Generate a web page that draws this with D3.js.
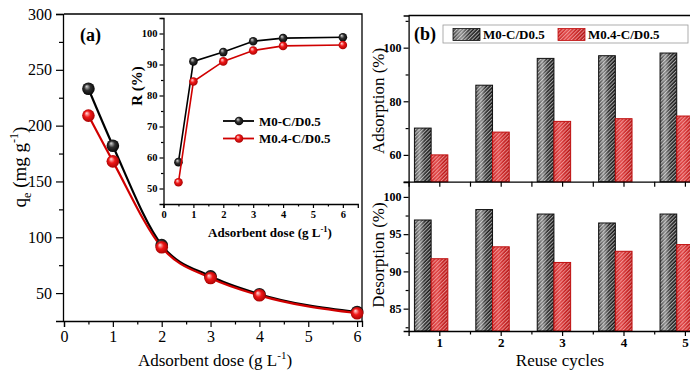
<!DOCTYPE html>
<html>
<head>
<meta charset="utf-8">
<script src="https://cdn.jsdelivr.net/npm/d3@7"></script>
<style>
  html, body { margin: 0; padding: 0; background: #fff; }
  svg, svg text { font-family: 'Liberation Serif', 'Times New Roman', serif; }
  svg { display: block; }
</style>
</head>
<body>
<svg id="chart" width="690" height="372"></svg>
<script>
// ---- data ----
const doses = [0.5, 1, 2, 3, 4, 6];
const qeM0 = [233, 182, 93, 65, 49, 33];
const qeM04 = [209, 168, 91, 63.5, 48, 32];
const rM0 = [58.5, 91, 94, 97.5, 98.5, 98.8];
const rM04 = [52, 84.5, 91, 94.5, 96, 96.3];

const cycles = [1, 2, 3, 4, 5];
const adsM0 = [70, 86, 96, 97, 98];
const adsM04 = [60, 68.5, 72.5, 73.5, 74.5];
const desM0 = [96.9, 98.3, 97.7, 96.5, 97.7];
const desM04 = [91.7, 93.3, 91.2, 92.7, 93.6];

const seriesNames = ["M0-C/D0.5", "M0.4-C/D0.5"];
const qeTicks = [50, 100, 150, 200, 250, 300];
const doseTicks = [0, 1, 2, 3, 4, 5, 6];
const rTicks = [50, 60, 70, 80, 90, 100];
const adsTicks = [60, 80, 100];
const desTicks = [85, 90, 95, 100];

const svg = d3.select("#chart");
const defs = svg.append("defs");
const serif = "'Liberation Serif', 'Times New Roman', serif";

// ---- gradients & patterns ----
function ball(id, hi, mid, edge) {
  const g = defs.append("radialGradient").attr("id", id)
    .attr("cx", "50%").attr("cy", "50%").attr("r", "55%")
    .attr("fx", "35%").attr("fy", "30%");
  g.append("stop").attr("offset", "0%").attr("stop-color", hi);
  g.append("stop").attr("offset", "45%").attr("stop-color", mid);
  g.append("stop").attr("offset", "100%").attr("stop-color", edge);
}
ball("ballBlack", "#d8d8d8", "#303030", "#000");
ball("ballRed", "#ffe0e0", "#f01818", "#a00000");

function barGrad(id, stops) {
  const g = defs.append("linearGradient").attr("id", id)
    .attr("x1", "0%").attr("x2", "100%").attr("y1", "0%").attr("y2", "0%");
  stops.forEach(([o, c]) => g.append("stop").attr("offset", o).attr("stop-color", c));
}
barGrad("gBlack", [["0%", "#3a3a3a"], ["30%", "#8a8a8a"], ["60%", "#2a2a2a"], ["100%", "#111"]]);
barGrad("gRed", [["0%", "#c81e1e"], ["35%", "#e04444"], ["70%", "#c41c1c"], ["100%", "#b01515"]]);

function hatch(id, color, op) {
  const p = defs.append("pattern").attr("id", id)
    .attr("patternUnits", "userSpaceOnUse")
    .attr("width", 2.6).attr("height", 2.6)
    .attr("patternTransform", "rotate(45)");
  p.append("rect").attr("x", 0).attr("y", 0).attr("width", 1.1).attr("height", 2.6)
    .attr("fill", color).attr("opacity", op);
}
hatch("hBlack", "#ffffff", 0.6);
hatch("hRed", "#ffd0d0", 0.6);

function styleAxis(g, fontSize, bold) {
  g.attr("font-family", null).style("font-family", serif);
  g.selectAll("path.domain").attr("stroke", "#000").attr("stroke-width", 1.3);
  g.selectAll(".tick line").attr("stroke", "#000").attr("stroke-width", 1.2);
  g.selectAll(".tick text").style("font-family", serif)
    .attr("font-size", fontSize).attr("font-weight", bold ? "bold" : "normal").attr("fill", "#000");
}

// =============== Panel (a) ===============
const xA = d3.scaleLinear().domain([0, 6.1]).range([64, 362]);
const yA = d3.scaleLinear().domain([25, 300]).range([321, 14]);

// frame (top and right)
svg.append("path").attr("d", `M${xA(0)},${yA(300)}H${xA(6.1)}V${yA(25)}`)
  .attr("fill", "none").attr("stroke", "#000").attr("stroke-width", 1.3);

const axA_x = svg.append("g").attr("transform", `translate(0,${yA(25)})`)
  .call(d3.axisBottom(xA).tickValues(doseTicks).tickFormat(d3.format("d")).tickSize(6).tickPadding(4));
styleAxis(axA_x, 16, false);
const axA_xm = svg.append("g").attr("transform", `translate(0,${yA(25)})`)
  .call(d3.axisBottom(xA).tickValues(d3.range(0.5, 6, 1)).tickFormat("").tickSize(3.5));
styleAxis(axA_xm, 16, false);
axA_xm.select("path.domain").remove();

const axA_y = svg.append("g").attr("transform", `translate(${xA(0) - 1},0)`)
  .call(d3.axisLeft(yA).tickValues(qeTicks).tickSize(7).tickPadding(4));
styleAxis(axA_y, 16, false);
const axA_ym = svg.append("g").attr("transform", `translate(${xA(0) - 1},0)`)
  .call(d3.axisLeft(yA).tickValues([75, 125, 175, 225, 275]).tickFormat("").tickSize(4));
styleAxis(axA_ym, 16, false);
axA_ym.select("path.domain").remove();

// axis titles
const xtA = svg.append("text").attr("x", 215).attr("y", 366).attr("text-anchor", "middle")
  .attr("font-size", 17);
xtA.append("tspan").text("Adsorbent dose (g L");
xtA.append("tspan").attr("dy", -7).attr("font-size", 11).text("-1");
xtA.append("tspan").attr("dy", 7).text(")");

const ytA = svg.append("text").attr("transform", "translate(26,167) rotate(-90)")
  .attr("text-anchor", "middle").attr("font-size", 19);
ytA.append("tspan").text("q");
ytA.append("tspan").attr("dy", 5).attr("font-size", 12).text("e");
ytA.append("tspan").attr("dy", -5).text(" (mg g");
ytA.append("tspan").attr("dy", -8).attr("font-size", 12).text("-1");
ytA.append("tspan").attr("dy", 8).text(")");

svg.append("text").attr("x", 80).attr("y", 41).attr("font-size", 18).attr("font-weight", "bold").text("(a)");

// curves
const lineA = d3.line().x(d => xA(d[0])).y(d => yA(d[1])).curve(d3.curveMonotoneX);
const mainSeries = [
  { vals: qeM0, stroke: "#000", fill: "url(#ballBlack)" },
  { vals: qeM04, stroke: "#d00000", fill: "url(#ballRed)" }
];
mainSeries.forEach(s => {
  const pts = doses.map((d, i) => [d, s.vals[i]]);
  svg.append("path").attr("d", lineA(pts)).attr("fill", "none")
    .attr("stroke", s.stroke).attr("stroke-width", 2.2);
});
mainSeries.forEach(s => {
  svg.append("g").selectAll("circle").data(doses.map((d, i) => [d, s.vals[i]])).join("circle")
    .attr("cx", d => xA(d[0])).attr("cy", d => yA(d[1])).attr("r", 6.3)
    .attr("fill", s.fill);
});

// ---- inset ----
const xI = d3.scaleLinear().domain([0, 6.5]).range([163.5, 357.8]);
const yI = d3.scaleLinear().domain([45, 105]).range([204, 18]);

const axI_x = svg.append("g").attr("transform", `translate(0,${yI(45)})`)
  .call(d3.axisBottom(xI).tickValues(doseTicks).tickFormat(d3.format("d")).tickSize(4).tickPadding(3));
styleAxis(axI_x, 10.5, true);
const axI_xm = svg.append("g").attr("transform", `translate(0,${yI(45)})`)
  .call(d3.axisBottom(xI).tickValues(d3.range(0.5, 6.5, 1)).tickFormat("").tickSize(2.5));
styleAxis(axI_xm, 10, true);
axI_xm.select("path.domain").remove();

const axI_y = svg.append("g").attr("transform", `translate(${xI(0)},0)`)
  .call(d3.axisLeft(yI).tickValues(rTicks).tickSize(4).tickPadding(2));
styleAxis(axI_y, 10.5, true);
const axI_ym = svg.append("g").attr("transform", `translate(${xI(0)},0)`)
  .call(d3.axisLeft(yI).tickValues([55, 65, 75, 85, 95, 105]).tickFormat("").tickSize(2.5));
styleAxis(axI_ym, 10, true);
axI_ym.select("path.domain").remove();

const xtI = svg.append("text").attr("x", 270).attr("y", 237).attr("text-anchor", "middle")
  .attr("font-size", 13).attr("font-weight", "bold");
xtI.append("tspan").text("Adsorbent dose (g L");
xtI.append("tspan").attr("dy", -5).attr("font-size", 8.5).text("-1");
xtI.append("tspan").attr("dy", 5).text(")");

svg.append("text").attr("transform", "translate(142,86) rotate(-90)")
  .attr("text-anchor", "middle").attr("font-size", 15).attr("font-weight", "bold").text("R (%)");

const lineI = d3.line().x(d => xI(d[0])).y(d => yI(d[1]));
const insetSeries = [
  { vals: rM0, stroke: "#000", fill: "url(#ballBlack)" },
  { vals: rM04, stroke: "#d00000", fill: "url(#ballRed)" }
];
insetSeries.forEach(s => {
  const pts = doses.map((d, i) => [d, s.vals[i]]);
  svg.append("path").attr("d", lineI(pts)).attr("fill", "none")
    .attr("stroke", s.stroke).attr("stroke-width", 1.6);
  svg.append("g").selectAll("circle").data(pts).join("circle")
    .attr("cx", d => xI(d[0])).attr("cy", d => yI(d[1])).attr("r", 4.3)
    .attr("fill", s.fill);
});

// inset legend
insetSeries.forEach((s, i) => {
  const y = 121 + i * 17.5;
  svg.append("line").attr("x1", 223).attr("x2", 254).attr("y1", y).attr("y2", y)
    .attr("stroke", s.stroke).attr("stroke-width", 1.8);
  svg.append("circle").attr("cx", 239).attr("cy", y).attr("r", 4.3).attr("fill", s.fill);
  svg.append("text").attr("x", 259).attr("y", y + 4.5).attr("font-size", 13)
    .attr("font-weight", "bold").text(seriesNames[i]);
});

// =============== Panel (b) ===============
const xB = d3.scaleLinear().domain([0.5, 5.5]).range([408.6, 715.6]);
const yU = d3.scaleLinear().domain([50, 112]).range([181.7, 15.5]);
const yL = d3.scaleLinear().domain([82, 102]).range([331, 182]);
const barW = 0.272;
const blackOff = -0.405, redOff = -0.133;

function bars(yScale, vals, off, grad, pat, stroke) {
  const g = svg.append("g");
  const data = cycles.map((c, i) => [c, vals[i]]);
  const y0 = yScale.range()[0];
  g.selectAll("rect.base").data(data).join("rect").attr("class", "base")
    .attr("x", d => xB(d[0] + off)).attr("width", xB(barW) - xB(0))
    .attr("y", d => yScale(d[1])).attr("height", d => y0 - yScale(d[1]))
    .attr("fill", grad);
  g.selectAll("rect.hatch").data(data).join("rect").attr("class", "hatch")
    .attr("x", d => xB(d[0] + off)).attr("width", xB(barW) - xB(0))
    .attr("y", d => yScale(d[1])).attr("height", d => y0 - yScale(d[1]))
    .attr("fill", pat).attr("stroke", stroke).attr("stroke-width", 1);
}
bars(yU, adsM0, blackOff, "url(#gBlack)", "url(#hBlack)", "#111");
bars(yU, adsM04, redOff, "url(#gRed)", "url(#hRed)", "#c01010");
bars(yL, desM0, blackOff, "url(#gBlack)", "url(#hBlack)", "#111");
bars(yL, desM04, redOff, "url(#gRed)", "url(#hRed)", "#c01010");

// frame top
svg.append("line").attr("x1", xB(0.5)).attr("x2", 690).attr("y1", 15.5).attr("y2", 15.5)
  .attr("stroke", "#000").attr("stroke-width", 1.3);

// upper x axis (no labels)
const axU_x = svg.append("g").attr("transform", `translate(0,${yU(50)})`)
  .call(d3.axisBottom(xB).tickValues(d3.range(1, 5.6, 0.5)).tickFormat("").tickSize(5));
styleAxis(axU_x, 12, true);
const axU_y = svg.append("g").attr("transform", `translate(${xB(0.5)},0)`)
  .call(d3.axisLeft(yU).tickValues(adsTicks).tickSize(5).tickPadding(2));
styleAxis(axU_y, 12, true);
const axU_ym = svg.append("g").attr("transform", `translate(${xB(0.5)},0)`)
  .call(d3.axisLeft(yU).tickValues([70, 90, 110]).tickFormat("").tickSize(3));
styleAxis(axU_ym, 12, true);
axU_ym.select("path.domain").remove();

// lower axes
const axL_x = svg.append("g").attr("transform", `translate(0,${yL(82)})`)
  .call(d3.axisBottom(xB).tickValues(cycles).tickFormat(d3.format("d")).tickSize(5).tickPadding(2));
styleAxis(axL_x, 13, true);
const axL_xm = svg.append("g").attr("transform", `translate(0,${yL(82)})`)
  .call(d3.axisBottom(xB).tickValues(d3.range(1.5, 5.5, 1)).tickFormat("").tickSize(3.5));
styleAxis(axL_xm, 13, true);
axL_xm.select("path.domain").remove();
const axL_y = svg.append("g").attr("transform", `translate(${xB(0.5)},0)`)
  .call(d3.axisLeft(yL).tickValues(desTicks).tickSize(5).tickPadding(2));
styleAxis(axL_y, 12, true);
const axL_ym = svg.append("g").attr("transform", `translate(${xB(0.5)},0)`)
  .call(d3.axisLeft(yL).tickValues([82.5, 87.5, 92.5, 97.5]).tickFormat("").tickSize(3));
styleAxis(axL_ym, 12, true);
axL_ym.select("path.domain").remove();

svg.append("text").attr("transform", "translate(384,101) rotate(-90)")
  .attr("text-anchor", "middle").attr("font-size", 17).text("Adsorption (%)");
svg.append("text").attr("transform", "translate(384,255) rotate(-90)")
  .attr("text-anchor", "middle").attr("font-size", 17).text("Desorption (%)");
svg.append("text").attr("x", 560).attr("y", 366).attr("text-anchor", "middle")
  .attr("font-size", 17).text("Reuse cycles");

svg.append("text").attr("x", 414).attr("y", 40).attr("font-size", 18).attr("font-weight", "bold").text("(b)");

// legend (b)
svg.append("rect").attr("x", 443).attr("y", 25).attr("width", 245).attr("height", 18)
  .attr("fill", "#fff").attr("stroke", "#999").attr("stroke-width", 0.8);
const legB = [
  { x: 453, grad: "url(#gBlack)", pat: "url(#hBlack)", stroke: "#111" },
  { x: 558, grad: "url(#gRed)", pat: "url(#hRed)", stroke: "#c01010" }
];
legB.forEach((l, i) => {
  svg.append("rect").attr("x", l.x).attr("y", 28.5).attr("width", 27).attr("height", 12).attr("fill", l.grad);
  svg.append("rect").attr("x", l.x).attr("y", 28.5).attr("width", 27).attr("height", 12)
    .attr("fill", l.pat).attr("stroke", l.stroke).attr("stroke-width", 0.8);
  svg.append("text").attr("x", l.x + 30).attr("y", 39).attr("font-size", 13)
    .attr("font-weight", "bold").text(seriesNames[i]);
});
</script>
</body>
</html>
